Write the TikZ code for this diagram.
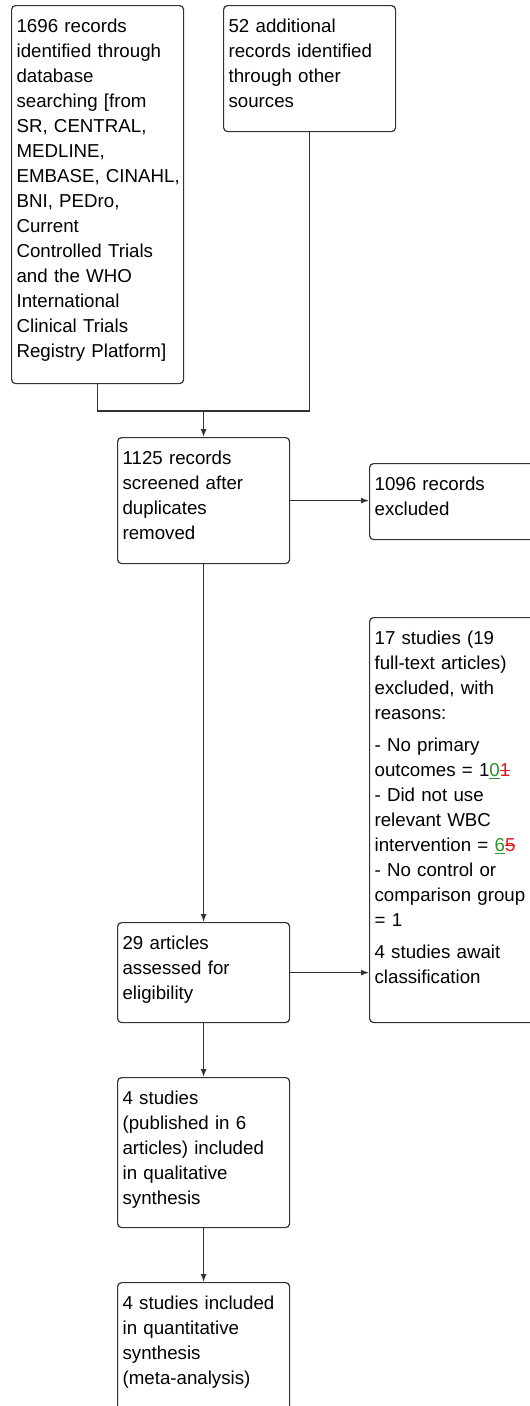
\documentclass[tikz,border=0pt]{standalone}
\usepackage{fontspec}
\setmainfont{Liberation Sans}
\usetikzlibrary{arrows.meta}
\definecolor{insgreen}{RGB}{40,150,40}
\definecolor{delred}{RGB}{230,20,20}
\newcommand{\addnum}[1]{\textcolor{insgreen}{\underline{#1}}}
\newcommand{\delnum}[1]{\textcolor{delred}{\sbox0{#1}\usebox0\llap{\rule[0.3em]{\wd0}{1.2pt}}}}
\hfuzz=4pt
\tikzset{
  stage/.style={draw=black!80, line width=1.2pt, rounded corners=4pt,
    anchor=north west, text width=162pt, inner xsep=5pt, inner ysep=0pt,
    align=left, font=\fontsize{18.7pt}{25pt}\selectfont,
    execute at begin node={\rule{0pt}{27pt}}},
  flow/.style={draw=black!80, line width=1.2pt},
  arrow/.style={flow, -{Latex[length=8pt,width=6pt]}},
}
\begin{document}
\begin{tikzpicture}[x=1pt, y=-1pt]
\useasboundingbox (0,0) rectangle (530,1406);
\clip (0,0) rectangle (530,1406);

% text depth = box height - 27pt (first line)
\node[stage, text depth=351pt] (ident) at (11,5)
  {1696 records\\identified through\\database\\searching [from\\SR, CENTRAL,\\MEDLINE,\\\mbox{EMBASE, CINAHL,}\\BNI, PEDro,\\Current\\Controlled Trials\\and the WHO\\International\\Clinical Trials\\Registry Platform]};
\node[stage, text depth=99pt] (other) at (223,5)
  {52 additional\\records identified\\through other\\sources};
\node[stage, text depth=99pt] (screen) at (117,437)
  {1125 records\\screened after\\duplicates\\removed};
\node[stage, text depth=49pt] (dropped) at (369,463)
  {1096 records\\excluded};
\node[stage, text depth=378pt] (reasons) at (369,617)
  {17 studies (19\\full-text articles)\\excluded, with\\reasons:\\[7pt]
   - No primary\\outcomes = 1\addnum{0}\delnum{1}\\- Did not use\\relevant WBC\\intervention = \addnum{6}\delnum{5}\\- No control or\\comparison group\\= 1\\[7pt]
   4 studies await\\classification};
\node[stage, text depth=73pt] (assess) at (117,922)
  {29 articles\\assessed for\\eligibility};
\node[stage, text depth=123pt] (qual) at (117,1077)
  {4 studies\\(published in 6\\articles) included\\in qualitative\\synthesis};
\node[stage, text depth=100pt] (quant) at (117,1282)
  {4 studies included\\in quantitative\\synthesis\\(meta-analysis)};

%%%%%%%%%%%%%%%%%%%%%%%%%%%%%%%%%%%%%%%%

\path (screen.north) ++(0,-26) coordinate (join);
\draw[flow] (ident.south) |- (join);
\draw[flow] (other.south) |- (join);
\draw[arrow] (join) -- (screen.north);
\draw[arrow] (screen.east) -- (screen.east -| dropped.west);
\draw[arrow] (screen.south) -- (assess.north);
\draw[arrow] (assess.east) -- (assess.east -| reasons.west);
\draw[arrow] (assess.south) -- (qual.north);
\draw[arrow] (qual.south) -- (quant.north);
\end{tikzpicture}
\end{document}
